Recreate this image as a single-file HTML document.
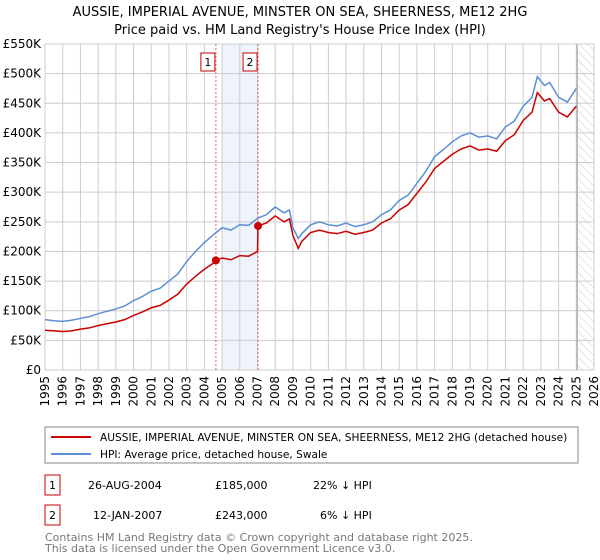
<!DOCTYPE html>
<html><head><meta charset="utf-8"><style>
body{margin:0;background:#fff;}
svg{display:block;font-family:"DejaVu Sans","Liberation Sans",sans-serif;}
</style></head><body>
<svg id="chart" width="600" height="560" viewBox="0 0 600 560">
<defs>
<pattern id="hatch" width="6" height="6" patternUnits="userSpaceOnUse" patternTransform="rotate(-45)">
<line x1="0" y1="0" x2="0" y2="6" stroke="#ccc" stroke-width="1"/></pattern>
</defs>
<text x="300" y="16" text-anchor="middle" font-size="13">AUSSIE, IMPERIAL AVENUE, MINSTER ON SEA, SHEERNESS, ME12 2HG</text>
<text x="300" y="34" text-anchor="middle" font-size="13">Price paid vs. HM Land Registry's House Price Index (HPI)</text>
<g id="grid"></g>
<g id="marks"></g>
<g id="axes"></g>
<rect x="45" y="427" width="533" height="36" fill="#fff" stroke="#888"/>
<line x1="51" y1="437" x2="91" y2="437" stroke="#cc0000" stroke-width="2"/>
<text x="100" y="441" font-size="10.6">AUSSIE, IMPERIAL AVENUE, MINSTER ON SEA, SHEERNESS, ME12 2HG (detached house)</text>
<line x1="51" y1="454" x2="91" y2="454" stroke="#5b8fd4" stroke-width="2"/>
<text x="100" y="458" font-size="10.6">HPI: Average price, detached house, Swale</text>
<g>
<rect x="45" y="475" width="15" height="20" fill="#fff" stroke="#cc0000"/>
<text x="52.5" y="489" text-anchor="middle" font-size="11">1</text>
<text x="88" y="489" font-size="11">26-AUG-2004</text>
<text x="215" y="489" font-size="11">£185,000</text>
<text x="313" y="489" font-size="11">22% ↓ HPI</text>
</g>
<g>
<rect x="45" y="505" width="15" height="20" fill="#fff" stroke="#cc0000"/>
<text x="52.5" y="519" text-anchor="middle" font-size="11">2</text>
<text x="93" y="519" font-size="11">12-JAN-2007</text>
<text x="215" y="519" font-size="11">£243,000</text>
<text x="320" y="519" font-size="11">6% ↓ HPI</text>
</g>
<text x="45" y="541" font-size="11" fill="#777">Contains HM Land Registry data © Crown copyright and database right 2025.</text>
<text x="45" y="552" font-size="11" fill="#777">This data is licensed under the Open Government Licence v3.0.</text>
</svg>
<script>
const hpiYears=[1995,1995.5,1996,1996.5,1997,1997.5,1998,1998.5,1999,1999.5,2000,2000.5,2001,2001.5,2002,2002.5,2003,2003.5,2004,2004.5,2005,2005.5,2006,2006.5,2007,2007.5,2008,2008.5,2008.8,2009,2009.3,2009.5,2010,2010.5,2011,2011.5,2012,2012.5,2013,2013.5,2014,2014.5,2015,2015.5,2016,2016.5,2017,2017.5,2018,2018.5,2019,2019.5,2020,2020.5,2021,2021.5,2022,2022.5,2022.8,2023.2,2023.5,2024,2024.5,2025];
const hpiValues=[85,83,82,84,87,90,95,99,103,108,117,124,133,138,150,162,183,200,215,228,240,236,245,244,256,262,275,265,270,240,222,230,245,250,245,243,248,242,245,250,262,270,286,295,315,335,360,372,385,395,400,393,395,390,410,420,445,460,495,480,485,460,452,475];
const priceYears=[1995,1995.5,1996,1996.5,1997,1997.5,1998,1998.5,1999,1999.5,2000,2000.5,2001,2001.5,2002,2002.5,2003,2003.5,2004,2004.5,2004.65,2005,2005.5,2006,2006.5,2007,2007.03,2007.5,2008,2008.5,2008.8,2009,2009.3,2009.5,2010,2010.5,2011,2011.5,2012,2012.5,2013,2013.5,2014,2014.5,2015,2015.5,2016,2016.5,2017,2017.5,2018,2018.5,2019,2019.5,2020,2020.5,2021,2021.5,2022,2022.5,2022.8,2023.2,2023.5,2024,2024.5,2025];
const priceValues=[67,66,65,66,69,71,75,78,81,85,92,98,105,109,118,128,145,158,170,180,185,189,186,193,192,200,243,248,260,250,255,227,205,217,232,236,232,230,234,229,232,236,248,255,270,279,298,317,340,352,364,373,378,371,373,369,387,397,421,435,468,454,458,435,427,445];
const saleYears=[2004.65,2007.03];
const saleValues=[185,243];
const saleLabels=["1","2"];
const yTicks=[0,50,100,150,200,250,300,350,400,450,500,550];
const yTickLabels=["£0","£50K","£100K","£150K","£200K","£250K","£300K","£350K","£400K","£450K","£500K","£550K"];
const xTicks=[1995,1996,1997,1998,1999,2000,2001,2002,2003,2004,2005,2006,2007,2008,2009,2010,2011,2012,2013,2014,2015,2016,2017,2018,2019,2020,2021,2022,2023,2024,2025,2026];

const NS="http://www.w3.org/2000/svg";
const X0=45,X1=594,Y0=370,Y1=44;
const xs=y=>X0+(y-1995)/(2026-1995)*(X1-X0);
const ys=v=>Y0-v/550*(Y0-Y1);
function mk(tag,attrs,parent){const e=document.createElementNS(NS,tag);for(const k in attrs)e.setAttribute(k,attrs[k]);parent.appendChild(e);return e;}
const grid=document.getElementById('grid'),marks=document.getElementById('marks'),axes=document.getElementById('axes');
const band=mk('rect',{x:xs(2005),y:Y1,width:xs(saleYears[1])-xs(2005),height:Y0-Y1,fill:'#eef3fc'},grid);


const hat=mk('rect',{x:xs(2025.05),y:Y1,width:X1-xs(2025.05),height:Y0-Y1,fill:'url(#hatch)'},grid);


yTicks.forEach((t,i)=>{
 const l=mk('line',{x1:X0,x2:X1,y1:ys(t),y2:ys(t),stroke:'#ccc'},grid);
 
 
 const tx=mk('text',{x:X0-4,y:ys(t)+4,'text-anchor':'end','font-size':'12'},axes);
 tx.textContent=yTickLabels[i];
 
 
});
xTicks.forEach(t=>{
 const l=mk('line',{x1:xs(t),x2:xs(t),y1:Y1,y2:Y0,stroke:'#ccc'},grid);
 
 
 const tx=mk('text',{x:0,y:0,'text-anchor':'end','font-size':'12',transform:`translate(${xs(t)+4},${Y0+6}) rotate(-90)`},axes);
 tx.textContent=t;
 
 
});
const endL=mk('line',{x1:xs(2025.05),x2:xs(2025.05),y1:Y1,y2:Y0,stroke:'#999'},grid);


saleYears.forEach((s,i)=>{
 const l=mk('line',{x1:xs(s),x2:xs(s),y1:Y1,y2:Y0,stroke:'#e06060','stroke-dasharray':'2,2'},marks);
 
 
 const r=mk('rect',{x:xs(s)-15,y:53,width:14,height:18,fill:'#fff',stroke:'#cc0000'},marks);
 
 
 const tx=mk('text',{x:xs(s)-8,y:66,'text-anchor':'middle','font-size':'11'},marks);
 tx.textContent=saleLabels[i];
 
 
});
const hp=mk('polyline',{points:hpiYears.map((y,i)=>xs(y)+','+ys(hpiValues[i])).join(' '),fill:'none',stroke:'#5b8fd4','stroke-width':1.5},marks);


const pp=mk('polyline',{points:priceYears.map((y,i)=>xs(y)+','+ys(priceValues[i])).join(' '),fill:'none',stroke:'#cc0000','stroke-width':1.5},marks);


saleYears.forEach((s,i)=>{
 const c=mk('circle',{cx:xs(s),cy:ys(saleValues[i]),r:4,fill:'#cc0000'},marks);
 
 
});
</script>
</body></html>
